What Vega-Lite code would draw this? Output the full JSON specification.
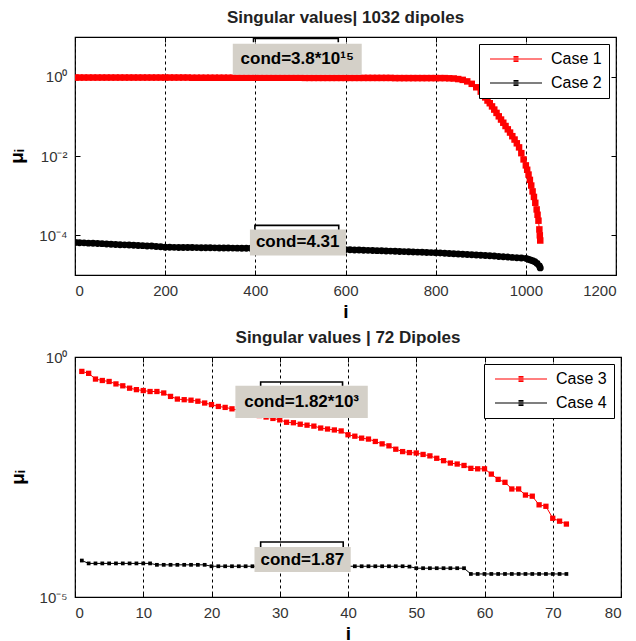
{
"$schema": "https://vega.github.io/schema/vega-lite/v6.json",
"background": "white",
"padding": {"left": 7, "top": 8, "right": 5, "bottom": 0},
"spacing": 6,
"resolve": {"scale": {"color": "independent", "x": "independent", "y": "independent"}, "legend": {"color": "independent"}},
"config": {
  "font": "Liberation Sans",
  "view": {"stroke": "black", "strokeWidth": 1.2},
  "axis": {"labelFont": "Liberation Sans", "labelFontSize": 15, "labelColor": "#333333", "domain": false, "tickColor": "black", "tickSize": -5, "labelPadding": 13, "titleFont": "Liberation Sans", "titleFontSize": 19, "titleFontWeight": "bold", "titleColor": "black"},
  "title": {"font": "Liberation Sans", "fontSize": 17, "fontWeight": "bold", "color": "#222222"}
},
"datasets": {
  "top": [
    {"c":"Case 1","i":1,"mu":0.95},{"c":"Case 1","i":10,"mu":0.95},{"c":"Case 1","i":20,"mu":0.95},{"c":"Case 1","i":30,"mu":0.95},{"c":"Case 1","i":40,"mu":0.95},{"c":"Case 1","i":50,"mu":0.95},{"c":"Case 1","i":60,"mu":0.95},{"c":"Case 1","i":70,"mu":0.95},{"c":"Case 1","i":80,"mu":0.95},{"c":"Case 1","i":90,"mu":0.95},{"c":"Case 1","i":100,"mu":0.95},{"c":"Case 1","i":110,"mu":0.95},{"c":"Case 1","i":120,"mu":0.95},{"c":"Case 1","i":130,"mu":0.95},{"c":"Case 1","i":140,"mu":0.95},{"c":"Case 1","i":150,"mu":0.95},{"c":"Case 1","i":160,"mu":0.95},{"c":"Case 1","i":170,"mu":0.95},{"c":"Case 1","i":180,"mu":0.95},{"c":"Case 1","i":190,"mu":0.95},{"c":"Case 1","i":200,"mu":0.95},{"c":"Case 1","i":210,"mu":0.95},{"c":"Case 1","i":220,"mu":0.95},{"c":"Case 1","i":230,"mu":0.95},{"c":"Case 1","i":240,"mu":0.95},{"c":"Case 1","i":250,"mu":0.95},
    {"c":"Case 1","i":260,"mu":0.94},{"c":"Case 1","i":270,"mu":0.94},{"c":"Case 1","i":280,"mu":0.94},{"c":"Case 1","i":290,"mu":0.94},{"c":"Case 1","i":300,"mu":0.94},{"c":"Case 1","i":310,"mu":0.94},{"c":"Case 1","i":320,"mu":0.94},{"c":"Case 1","i":330,"mu":0.94},{"c":"Case 1","i":340,"mu":0.94},{"c":"Case 1","i":350,"mu":0.94},{"c":"Case 1","i":360,"mu":0.94},{"c":"Case 1","i":370,"mu":0.94},{"c":"Case 1","i":380,"mu":0.94},{"c":"Case 1","i":390,"mu":0.94},{"c":"Case 1","i":400,"mu":0.94},{"c":"Case 1","i":410,"mu":0.94},{"c":"Case 1","i":420,"mu":0.94},{"c":"Case 1","i":430,"mu":0.94},{"c":"Case 1","i":440,"mu":0.94},{"c":"Case 1","i":450,"mu":0.94},{"c":"Case 1","i":460,"mu":0.94},{"c":"Case 1","i":470,"mu":0.94},{"c":"Case 1","i":480,"mu":0.94},{"c":"Case 1","i":490,"mu":0.94},{"c":"Case 1","i":500,"mu":0.94},
    {"c":"Case 1","i":510,"mu":0.93},{"c":"Case 1","i":520,"mu":0.93},{"c":"Case 1","i":530,"mu":0.93},{"c":"Case 1","i":540,"mu":0.93},{"c":"Case 1","i":550,"mu":0.93},{"c":"Case 1","i":560,"mu":0.93},{"c":"Case 1","i":570,"mu":0.93},{"c":"Case 1","i":580,"mu":0.93},{"c":"Case 1","i":590,"mu":0.93},{"c":"Case 1","i":600,"mu":0.93},{"c":"Case 1","i":610,"mu":0.93},{"c":"Case 1","i":620,"mu":0.93},{"c":"Case 1","i":630,"mu":0.93},{"c":"Case 1","i":640,"mu":0.93},{"c":"Case 1","i":650,"mu":0.93},{"c":"Case 1","i":660,"mu":0.93},{"c":"Case 1","i":670,"mu":0.93},{"c":"Case 1","i":680,"mu":0.93},{"c":"Case 1","i":690,"mu":0.93},{"c":"Case 1","i":700,"mu":0.93},
    {"c":"Case 1","i":710,"mu":0.92},{"c":"Case 1","i":720,"mu":0.92},{"c":"Case 1","i":730,"mu":0.92},{"c":"Case 1","i":740,"mu":0.92},{"c":"Case 1","i":750,"mu":0.92},{"c":"Case 1","i":760,"mu":0.92},{"c":"Case 1","i":770,"mu":0.92},{"c":"Case 1","i":780,"mu":0.92},{"c":"Case 1","i":790,"mu":0.92},{"c":"Case 1","i":800,"mu":0.92},{"c":"Case 1","i":810,"mu":0.92},{"c":"Case 1","i":820,"mu":0.92},{"c":"Case 1","i":830,"mu":0.91},{"c":"Case 1","i":840,"mu":0.9},
    {"c":"Case 1","i":850,"mu":0.87},{"c":"Case 1","i":860,"mu":0.83},{"c":"Case 1","i":870,"mu":0.76},{"c":"Case 1","i":880,"mu":0.66},{"c":"Case 1","i":890,"mu":0.54},{"c":"Case 1","i":900,"mu":0.42},{"c":"Case 1","i":905,"mu":0.36},{"c":"Case 1","i":910,"mu":0.30},{"c":"Case 1","i":915,"mu":0.25},{"c":"Case 1","i":920,"mu":0.214},{"c":"Case 1","i":925,"mu":0.178},{"c":"Case 1","i":930,"mu":0.148},{"c":"Case 1","i":935,"mu":0.122},{"c":"Case 1","i":940,"mu":0.10},{"c":"Case 1","i":945,"mu":0.083},{"c":"Case 1","i":950,"mu":0.069},{"c":"Case 1","i":955,"mu":0.057},{"c":"Case 1","i":960,"mu":0.047},{"c":"Case 1","i":965,"mu":0.039},{"c":"Case 1","i":970,"mu":0.0316},{"c":"Case 1","i":975,"mu":0.026},{"c":"Case 1","i":980,"mu":0.0209},{"c":"Case 1","i":985,"mu":0.0165},{"c":"Case 1","i":990,"mu":0.0118},{"c":"Case 1","i":995,"mu":0.0082},{"c":"Case 1","i":1000,"mu":0.0058},{"c":"Case 1","i":1003,"mu":0.0045},{"c":"Case 1","i":1006,"mu":0.0034},{"c":"Case 1","i":1009,"mu":0.0025},{"c":"Case 1","i":1012,"mu":0.0018},{"c":"Case 1","i":1015,"mu":0.00128},{"c":"Case 1","i":1018,"mu":0.00093},{"c":"Case 1","i":1021,"mu":0.00066},{"c":"Case 1","i":1024,"mu":0.00045},{"c":"Case 1","i":1026,"mu":0.00033},{"c":"Case 1","i":1028,"mu":0.000234},{"c":"Case 1","i":1030,"mu":0.000141},{"c":"Case 1","i":1031,"mu":0.0001},{"c":"Case 1","i":1032,"mu":0.000074},
    {"c":"Case 2","i":1,"mu":6.61e-5},{"c":"Case 2","i":10,"mu":6.5e-5},{"c":"Case 2","i":20,"mu":6.46e-5},{"c":"Case 2","i":30,"mu":6.35e-5},{"c":"Case 2","i":40,"mu":6.31e-5},{"c":"Case 2","i":50,"mu":6.2e-5},{"c":"Case 2","i":60,"mu":6.17e-5},{"c":"Case 2","i":70,"mu":6.05e-5},{"c":"Case 2","i":80,"mu":5.95e-5},{"c":"Case 2","i":90,"mu":5.89e-5},{"c":"Case 2","i":100,"mu":5.8e-5},{"c":"Case 2","i":110,"mu":5.75e-5},{"c":"Case 2","i":120,"mu":5.7e-5},{"c":"Case 2","i":130,"mu":5.62e-5},{"c":"Case 2","i":140,"mu":5.56e-5},{"c":"Case 2","i":150,"mu":5.5e-5},{"c":"Case 2","i":160,"mu":5.4e-5},{"c":"Case 2","i":170,"mu":5.37e-5},{"c":"Case 2","i":180,"mu":5.25e-5},{"c":"Case 2","i":190,"mu":5.13e-5},{"c":"Case 2","i":200,"mu":5.01e-5},
    {"c":"Case 2","i":210,"mu":5.0e-5},{"c":"Case 2","i":220,"mu":4.98e-5},{"c":"Case 2","i":230,"mu":4.96e-5},{"c":"Case 2","i":240,"mu":4.95e-5},{"c":"Case 2","i":250,"mu":4.93e-5},{"c":"Case 2","i":260,"mu":4.92e-5},{"c":"Case 2","i":270,"mu":4.9e-5},{"c":"Case 2","i":280,"mu":4.88e-5},{"c":"Case 2","i":290,"mu":4.86e-5},{"c":"Case 2","i":300,"mu":4.85e-5},{"c":"Case 2","i":310,"mu":4.83e-5},{"c":"Case 2","i":320,"mu":4.81e-5},{"c":"Case 2","i":330,"mu":4.8e-5},{"c":"Case 2","i":340,"mu":4.78e-5},{"c":"Case 2","i":350,"mu":4.76e-5},{"c":"Case 2","i":360,"mu":4.75e-5},{"c":"Case 2","i":370,"mu":4.73e-5},{"c":"Case 2","i":380,"mu":4.71e-5},{"c":"Case 2","i":390,"mu":4.7e-5},{"c":"Case 2","i":400,"mu":4.68e-5},
    {"c":"Case 2","i":410,"mu":4.66e-5},{"c":"Case 2","i":420,"mu":4.65e-5},{"c":"Case 2","i":430,"mu":4.63e-5},{"c":"Case 2","i":440,"mu":4.62e-5},{"c":"Case 2","i":450,"mu":4.6e-5},{"c":"Case 2","i":460,"mu":4.58e-5},{"c":"Case 2","i":470,"mu":4.57e-5},{"c":"Case 2","i":480,"mu":4.55e-5},{"c":"Case 2","i":490,"mu":4.54e-5},{"c":"Case 2","i":500,"mu":4.52e-5},{"c":"Case 2","i":510,"mu":4.5e-5},{"c":"Case 2","i":520,"mu":4.49e-5},{"c":"Case 2","i":530,"mu":4.47e-5},{"c":"Case 2","i":540,"mu":4.46e-5},{"c":"Case 2","i":550,"mu":4.44e-5},{"c":"Case 2","i":560,"mu":4.43e-5},{"c":"Case 2","i":570,"mu":4.41e-5},{"c":"Case 2","i":580,"mu":4.4e-5},{"c":"Case 2","i":590,"mu":4.38e-5},{"c":"Case 2","i":600,"mu":4.37e-5},
    {"c":"Case 2","i":610,"mu":4.33e-5},{"c":"Case 2","i":620,"mu":4.29e-5},{"c":"Case 2","i":630,"mu":4.26e-5},{"c":"Case 2","i":640,"mu":4.22e-5},{"c":"Case 2","i":650,"mu":4.18e-5},{"c":"Case 2","i":660,"mu":4.15e-5},{"c":"Case 2","i":670,"mu":4.11e-5},{"c":"Case 2","i":680,"mu":4.07e-5},{"c":"Case 2","i":690,"mu":4.04e-5},{"c":"Case 2","i":700,"mu":4.0e-5},{"c":"Case 2","i":710,"mu":3.96e-5},{"c":"Case 2","i":720,"mu":3.92e-5},{"c":"Case 2","i":730,"mu":3.89e-5},{"c":"Case 2","i":740,"mu":3.85e-5},{"c":"Case 2","i":750,"mu":3.81e-5},{"c":"Case 2","i":760,"mu":3.78e-5},{"c":"Case 2","i":770,"mu":3.74e-5},{"c":"Case 2","i":780,"mu":3.7e-5},{"c":"Case 2","i":790,"mu":3.67e-5},{"c":"Case 2","i":800,"mu":3.63e-5},
    {"c":"Case 2","i":810,"mu":3.58e-5},{"c":"Case 2","i":820,"mu":3.53e-5},{"c":"Case 2","i":830,"mu":3.48e-5},{"c":"Case 2","i":840,"mu":3.44e-5},{"c":"Case 2","i":850,"mu":3.39e-5},{"c":"Case 2","i":860,"mu":3.34e-5},{"c":"Case 2","i":870,"mu":3.3e-5},{"c":"Case 2","i":880,"mu":3.25e-5},{"c":"Case 2","i":890,"mu":3.2e-5},{"c":"Case 2","i":900,"mu":3.16e-5},{"c":"Case 2","i":910,"mu":3.1e-5},{"c":"Case 2","i":920,"mu":3.05e-5},{"c":"Case 2","i":930,"mu":3.0e-5},{"c":"Case 2","i":940,"mu":2.94e-5},{"c":"Case 2","i":950,"mu":2.89e-5},{"c":"Case 2","i":960,"mu":2.84e-5},{"c":"Case 2","i":970,"mu":2.78e-5},{"c":"Case 2","i":980,"mu":2.73e-5},{"c":"Case 2","i":990,"mu":2.68e-5},{"c":"Case 2","i":1000,"mu":2.63e-5},{"c":"Case 2","i":1005,"mu":2.5e-5},{"c":"Case 2","i":1010,"mu":2.4e-5},{"c":"Case 2","i":1015,"mu":2.28e-5},{"c":"Case 2","i":1020,"mu":2.15e-5},{"c":"Case 2","i":1025,"mu":1.95e-5},{"c":"Case 2","i":1030,"mu":1.7e-5},{"c":"Case 2","i":1032,"mu":1.51e-5}
  ],
  "bottom": [
    {"c":"Case 3","i":1,"mu":0.501},{"c":"Case 3","i":2,"mu":0.457},{"c":"Case 3","i":3,"mu":0.347},{"c":"Case 3","i":4,"mu":0.324},{"c":"Case 3","i":5,"mu":0.309},{"c":"Case 3","i":6,"mu":0.275},{"c":"Case 3","i":7,"mu":0.251},{"c":"Case 3","i":8,"mu":0.224},{"c":"Case 3","i":9,"mu":0.209},{"c":"Case 3","i":10,"mu":0.2},{"c":"Case 3","i":11,"mu":0.191},{"c":"Case 3","i":12,"mu":0.191},{"c":"Case 3","i":13,"mu":0.178},{"c":"Case 3","i":14,"mu":0.151},{"c":"Case 3","i":15,"mu":0.133},{"c":"Case 3","i":16,"mu":0.129},{"c":"Case 3","i":17,"mu":0.126},{"c":"Case 3","i":18,"mu":0.12},{"c":"Case 3","i":19,"mu":0.11},{"c":"Case 3","i":20,"mu":0.102},{"c":"Case 3","i":21,"mu":0.0933},{"c":"Case 3","i":22,"mu":0.0891},{"c":"Case 3","i":23,"mu":0.0832},{"c":"Case 3","i":24,"mu":0.0776},{"c":"Case 3","i":25,"mu":0.0724},{"c":"Case 3","i":26,"mu":0.0661},{"c":"Case 3","i":27,"mu":0.0603},{"c":"Case 3","i":28,"mu":0.0562},{"c":"Case 3","i":29,"mu":0.0525},{"c":"Case 3","i":30,"mu":0.049},{"c":"Case 3","i":31,"mu":0.0437},{"c":"Case 3","i":32,"mu":0.0427},{"c":"Case 3","i":33,"mu":0.0398},{"c":"Case 3","i":34,"mu":0.038},{"c":"Case 3","i":35,"mu":0.0363},{"c":"Case 3","i":36,"mu":0.0331},{"c":"Case 3","i":37,"mu":0.0316},{"c":"Case 3","i":38,"mu":0.0302},{"c":"Case 3","i":39,"mu":0.0288},{"c":"Case 3","i":40,"mu":0.024},{"c":"Case 3","i":41,"mu":0.0224},{"c":"Case 3","i":42,"mu":0.0204},{"c":"Case 3","i":43,"mu":0.0195},{"c":"Case 3","i":44,"mu":0.0174},{"c":"Case 3","i":45,"mu":0.0155},{"c":"Case 3","i":46,"mu":0.0141},{"c":"Case 3","i":47,"mu":0.012},{"c":"Case 3","i":48,"mu":0.0107},{"c":"Case 3","i":49,"mu":0.0102},{"c":"Case 3","i":50,"mu":0.01},{"c":"Case 3","i":51,"mu":0.00933},{"c":"Case 3","i":52,"mu":0.00871},{"c":"Case 3","i":53,"mu":0.00776},{"c":"Case 3","i":54,"mu":0.00692},{"c":"Case 3","i":55,"mu":0.00617},{"c":"Case 3","i":56,"mu":0.00589},{"c":"Case 3","i":57,"mu":0.0055},{"c":"Case 3","i":58,"mu":0.00479},{"c":"Case 3","i":59,"mu":0.00468},{"c":"Case 3","i":60,"mu":0.00468},{"c":"Case 3","i":61,"mu":0.00363},{"c":"Case 3","i":62,"mu":0.00282},{"c":"Case 3","i":63,"mu":0.00245},{"c":"Case 3","i":64,"mu":0.00178},{"c":"Case 3","i":65,"mu":0.00178},{"c":"Case 3","i":66,"mu":0.00133},{"c":"Case 3","i":67,"mu":0.00126},{"c":"Case 3","i":68,"mu":0.000832},{"c":"Case 3","i":69,"mu":0.000776},{"c":"Case 3","i":70,"mu":0.000437},{"c":"Case 3","i":71,"mu":0.00038},{"c":"Case 3","i":72,"mu":0.000331},
    {"c":"Case 4","i":1,"mu":5.75e-5},{"c":"Case 4","i":2,"mu":5.01e-5},{"c":"Case 4","i":3,"mu":5.01e-5},{"c":"Case 4","i":4,"mu":5.01e-5},{"c":"Case 4","i":5,"mu":5.01e-5},{"c":"Case 4","i":6,"mu":5.01e-5},{"c":"Case 4","i":7,"mu":5.01e-5},{"c":"Case 4","i":8,"mu":5.01e-5},{"c":"Case 4","i":9,"mu":5.01e-5},{"c":"Case 4","i":10,"mu":5.01e-5},{"c":"Case 4","i":11,"mu":5.01e-5},{"c":"Case 4","i":12,"mu":4.68e-5},{"c":"Case 4","i":13,"mu":4.68e-5},{"c":"Case 4","i":14,"mu":4.68e-5},{"c":"Case 4","i":15,"mu":4.68e-5},{"c":"Case 4","i":16,"mu":4.68e-5},{"c":"Case 4","i":17,"mu":4.68e-5},{"c":"Case 4","i":18,"mu":4.68e-5},{"c":"Case 4","i":19,"mu":4.68e-5},{"c":"Case 4","i":20,"mu":4.37e-5},{"c":"Case 4","i":21,"mu":4.37e-5},{"c":"Case 4","i":22,"mu":4.37e-5},{"c":"Case 4","i":23,"mu":4.37e-5},{"c":"Case 4","i":24,"mu":4.37e-5},{"c":"Case 4","i":25,"mu":4.37e-5},{"c":"Case 4","i":26,"mu":4.37e-5},{"c":"Case 4","i":27,"mu":4.37e-5},{"c":"Case 4","i":28,"mu":4.37e-5},{"c":"Case 4","i":29,"mu":4.37e-5},{"c":"Case 4","i":30,"mu":4.37e-5},{"c":"Case 4","i":31,"mu":4.37e-5},{"c":"Case 4","i":32,"mu":4.37e-5},{"c":"Case 4","i":33,"mu":4.37e-5},{"c":"Case 4","i":34,"mu":4.37e-5},{"c":"Case 4","i":35,"mu":4.37e-5},{"c":"Case 4","i":36,"mu":4.37e-5},{"c":"Case 4","i":37,"mu":4.37e-5},{"c":"Case 4","i":38,"mu":4.37e-5},{"c":"Case 4","i":39,"mu":4.37e-5},{"c":"Case 4","i":40,"mu":4.37e-5},{"c":"Case 4","i":41,"mu":4.37e-5},{"c":"Case 4","i":42,"mu":4.37e-5},{"c":"Case 4","i":43,"mu":4.37e-5},{"c":"Case 4","i":44,"mu":4.37e-5},{"c":"Case 4","i":45,"mu":4.37e-5},{"c":"Case 4","i":46,"mu":4.37e-5},{"c":"Case 4","i":47,"mu":4.37e-5},{"c":"Case 4","i":48,"mu":4.37e-5},{"c":"Case 4","i":49,"mu":4.3e-5},{"c":"Case 4","i":50,"mu":3.98e-5},{"c":"Case 4","i":51,"mu":3.98e-5},{"c":"Case 4","i":52,"mu":3.98e-5},{"c":"Case 4","i":53,"mu":3.98e-5},{"c":"Case 4","i":54,"mu":3.98e-5},{"c":"Case 4","i":55,"mu":3.98e-5},{"c":"Case 4","i":56,"mu":3.98e-5},{"c":"Case 4","i":57,"mu":3.98e-5},{"c":"Case 4","i":58,"mu":3.02e-5},{"c":"Case 4","i":59,"mu":3.02e-5},{"c":"Case 4","i":60,"mu":3.02e-5},{"c":"Case 4","i":61,"mu":3.02e-5},{"c":"Case 4","i":62,"mu":3.02e-5},{"c":"Case 4","i":63,"mu":3.02e-5},{"c":"Case 4","i":64,"mu":3.02e-5},{"c":"Case 4","i":65,"mu":3.02e-5},{"c":"Case 4","i":66,"mu":3.02e-5},{"c":"Case 4","i":67,"mu":3.02e-5},{"c":"Case 4","i":68,"mu":3.02e-5},{"c":"Case 4","i":69,"mu":3.02e-5},{"c":"Case 4","i":70,"mu":3.02e-5},{"c":"Case 4","i":71,"mu":3.02e-5},{"c":"Case 4","i":72,"mu":3.02e-5}
  ],
  "annTop": [
    {"x1":350,"x2":636,"y1":1.12,"y2":6.8,"tx":493,"ty":2.75,"label":"cond=3.8*10¹⁵"},
    {"x1":388,"x2":601,"y1":3.09e-5,"y2":1.41e-4,"tx":494,"ty":6.6e-5,"label":"cond=4.31"}
  ],
  "brTop": [
    {"g":1,"o":1,"bx":396,"by":7.4},{"g":1,"o":2,"bx":396,"by":9.2},{"g":1,"o":3,"bx":584,"by":9.2},{"g":1,"o":4,"bx":584,"by":7.4},
    {"g":2,"o":1,"bx":399,"by":1.41e-4},{"g":2,"o":2,"bx":399,"by":1.78e-4},{"g":2,"o":3,"bx":585,"by":1.78e-4},{"g":2,"o":4,"bx":585,"by":1.41e-4}
  ],
  "annBot": [
    {"x1":23.5,"x2":42.9,"y1":0.0537,"y2":0.251,"tx":33.2,"ty":0.115,"label":"cond=1.82*10³"},
    {"x1":26.3,"x2":40.4,"y1":3.3e-5,"y2":1.1e-4,"tx":33.3,"ty":6.0e-5,"label":"cond=1.87"}
  ],
  "brBot": [
    {"g":1,"o":1,"bx":27.2,"by":0.251},{"g":1,"o":2,"bx":27.2,"by":0.302},{"g":1,"o":3,"bx":39.2,"by":0.302},{"g":1,"o":4,"bx":39.2,"by":0.251},
    {"g":2,"o":1,"bx":27.2,"by":1.1e-4},{"g":2,"o":2,"bx":27.2,"by":1.4e-4},{"g":2,"o":3,"bx":39.3,"by":1.4e-4},{"g":2,"o":4,"bx":39.3,"by":1.1e-4}
  ]
},
"vconcat": [
  {
    "width": 541, "height": 238,
    "title": {"text": "Singular values| 1032  dipoles", "offset": 8},
    "resolve": {"axis": {"x": "independent", "y": "independent"}},
    "layer": [
      {
        "data": {"name": "top"},
        "mark": {"type": "line", "strokeWidth": 1, "clip": true},
        "encoding": {
          "x": {"field": "i", "type": "quantitative", "scale": {"domain": [0, 1200], "nice": false},
                "axis": {"values": [0,200,400,600,800,1000,1200], "format": "d", "grid": true, "gridColor": "black", "gridDash": [3,3], "gridOpacity": 1, "title": "i", "titlePadding": 4}},
          "y": {"field": "mu", "type": "quantitative", "scale": {"type": "log", "domain": [1e-5, 10], "nice": false},
                "axis": {"values": [0.0001, 0.01, 1], "labelExpr": "datum.value >= 0.5 ? '10⁰' : datum.value >= 0.005 ? '10⁻²' : '10⁻⁴'", "grid": false, "title": "μᵢ", "titlePadding": 12}},
          "color": {"field": "c", "type": "nominal", "scale": {"domain": ["Case 1", "Case 2"], "range": ["#ff0000", "#000000"]},
                    "legend": {"title": null, "orient": "top-right", "offset": 7, "fillColor": "white", "strokeColor": "black", "padding": 7, "labelFont": "Liberation Sans", "labelFontSize": 16, "labelColor": "black", "symbolType": "M-5.2,0H5.2M-0.5,-0.5H0.5M-0.5,-0.25H0.5M-0.5,0H0.5M-0.5,0.25H0.5M-0.5,0.5H0.5", "symbolSize": 100, "symbolStrokeWidth": 1.2, "symbolOffset": 22, "labelOffset": 27, "rowPadding": 8}}
        }
      },
      {
        "data": {"name": "top"},
        "transform": [{"filter": "datum.c == 'Case 1'"}],
        "mark": {"type": "point", "shape": "square", "filled": true, "opacity": 1, "size": 42, "color": "#ff0000", "clip": true},
        "encoding": {
          "x": {"field": "i", "type": "quantitative", "axis": null},
          "y": {"field": "mu", "type": "quantitative", "axis": null}
        }
      },
      {
        "data": {"name": "top"},
        "transform": [{"filter": "datum.c == 'Case 2'"}],
        "mark": {"type": "point", "shape": "circle", "filled": true, "opacity": 1, "size": 48, "color": "#000000", "clip": true},
        "encoding": {
          "x": {"field": "i", "type": "quantitative", "axis": null},
          "y": {"field": "mu", "type": "quantitative", "axis": null}
        }
      },
      {
        "data": {"name": "annTop"},
        "mark": {"type": "rect", "color": "#d4d0c8"},
        "encoding": {
          "x": {"field": "x1", "type": "quantitative", "axis": null},
          "x2": {"field": "x2"},
          "y": {"field": "y1", "type": "quantitative", "axis": null},
          "y2": {"field": "y2"}
        }
      },
      {
        "data": {"name": "brTop"},
        "mark": {"type": "line", "color": "black", "strokeWidth": 1.6},
        "encoding": {
          "x": {"field": "bx", "type": "quantitative", "axis": null},
          "y": {"field": "by", "type": "quantitative", "axis": null},
          "detail": {"field": "g"},
          "order": {"field": "o"}
        }
      },
      {
        "data": {"name": "annTop"},
        "mark": {"type": "text", "font": "Liberation Sans", "fontSize": 17, "fontWeight": "bold", "color": "black", "align": "center", "baseline": "middle"},
        "encoding": {
          "x": {"field": "tx", "type": "quantitative", "axis": {"orient": "top", "values": [0,200,400,600,800,1000,1200], "labels": false, "grid": false, "title": null}},
          "y": {"field": "ty", "type": "quantitative", "axis": {"orient": "right", "values": [0.0001, 0.01, 1], "labels": false, "grid": false, "title": null}},
          "text": {"field": "label"}
        }
      }
    ]
  },
  {
    "width": 546, "height": 240,
    "title": {"text": "Singular values | 72 Dipoles", "offset": 3},
    "resolve": {"axis": {"x": "independent", "y": "independent"}},
    "layer": [
      {
        "data": {"name": "bottom"},
        "mark": {"type": "line", "strokeWidth": 1, "clip": true},
        "encoding": {
          "x": {"field": "i", "type": "quantitative", "scale": {"domain": [0, 80], "nice": false},
                "axis": {"values": [0,10,20,30,40,50,60,70,80], "format": "d", "grid": true, "gridColor": "black", "gridDash": [3,3], "gridOpacity": 1, "title": "i", "titlePadding": 4}},
          "y": {"field": "mu", "type": "quantitative", "scale": {"type": "log", "domain": [1e-5, 1], "nice": false},
                "axis": {"values": [0.00001, 1], "labelExpr": "datum.value >= 0.5 ? '10⁰' : '10⁻⁵'", "grid": false, "title": "μᵢ", "titlePadding": 12}},
          "color": {"field": "c", "type": "nominal", "scale": {"domain": ["Case 3", "Case 4"], "range": ["#ff0000", "#000000"]},
                    "legend": {"title": null, "orient": "top-right", "offset": 7, "fillColor": "white", "strokeColor": "black", "padding": 7, "labelFont": "Liberation Sans", "labelFontSize": 16, "labelColor": "black", "symbolType": "M-5.2,0H5.2M-0.5,-0.5H0.5M-0.5,-0.25H0.5M-0.5,0H0.5M-0.5,0.25H0.5M-0.5,0.5H0.5", "symbolSize": 100, "symbolStrokeWidth": 1.2, "symbolOffset": 22, "labelOffset": 27, "rowPadding": 8}}
        }
      },
      {
        "data": {"name": "bottom"},
        "transform": [{"filter": "datum.c == 'Case 3'"}],
        "mark": {"type": "point", "shape": "square", "filled": true, "opacity": 1, "size": 28, "color": "#ff0000", "clip": true},
        "encoding": {
          "x": {"field": "i", "type": "quantitative", "axis": null},
          "y": {"field": "mu", "type": "quantitative", "axis": null}
        }
      },
      {
        "data": {"name": "bottom"},
        "transform": [{"filter": "datum.c == 'Case 4'"}],
        "mark": {"type": "point", "shape": "square", "filled": true, "opacity": 1, "size": 14, "color": "#000000", "clip": true},
        "encoding": {
          "x": {"field": "i", "type": "quantitative", "axis": null},
          "y": {"field": "mu", "type": "quantitative", "axis": null}
        }
      },
      {
        "data": {"name": "annBot"},
        "mark": {"type": "rect", "color": "#d4d0c8"},
        "encoding": {
          "x": {"field": "x1", "type": "quantitative", "axis": null},
          "x2": {"field": "x2"},
          "y": {"field": "y1", "type": "quantitative", "axis": null},
          "y2": {"field": "y2"}
        }
      },
      {
        "data": {"name": "brBot"},
        "mark": {"type": "line", "color": "black", "strokeWidth": 1.6},
        "encoding": {
          "x": {"field": "bx", "type": "quantitative", "axis": null},
          "y": {"field": "by", "type": "quantitative", "axis": null},
          "detail": {"field": "g"},
          "order": {"field": "o"}
        }
      },
      {
        "data": {"name": "annBot"},
        "mark": {"type": "text", "font": "Liberation Sans", "fontSize": 17, "fontWeight": "bold", "color": "black", "align": "center", "baseline": "middle"},
        "encoding": {
          "x": {"field": "tx", "type": "quantitative", "axis": {"orient": "top", "values": [0,10,20,30,40,50,60,70,80], "labels": false, "grid": false, "title": null}},
          "y": {"field": "ty", "type": "quantitative", "axis": {"orient": "right", "values": [0.00001, 1], "labels": false, "grid": false, "title": null}},
          "text": {"field": "label"}
        }
      }
    ]
  }
]
}
